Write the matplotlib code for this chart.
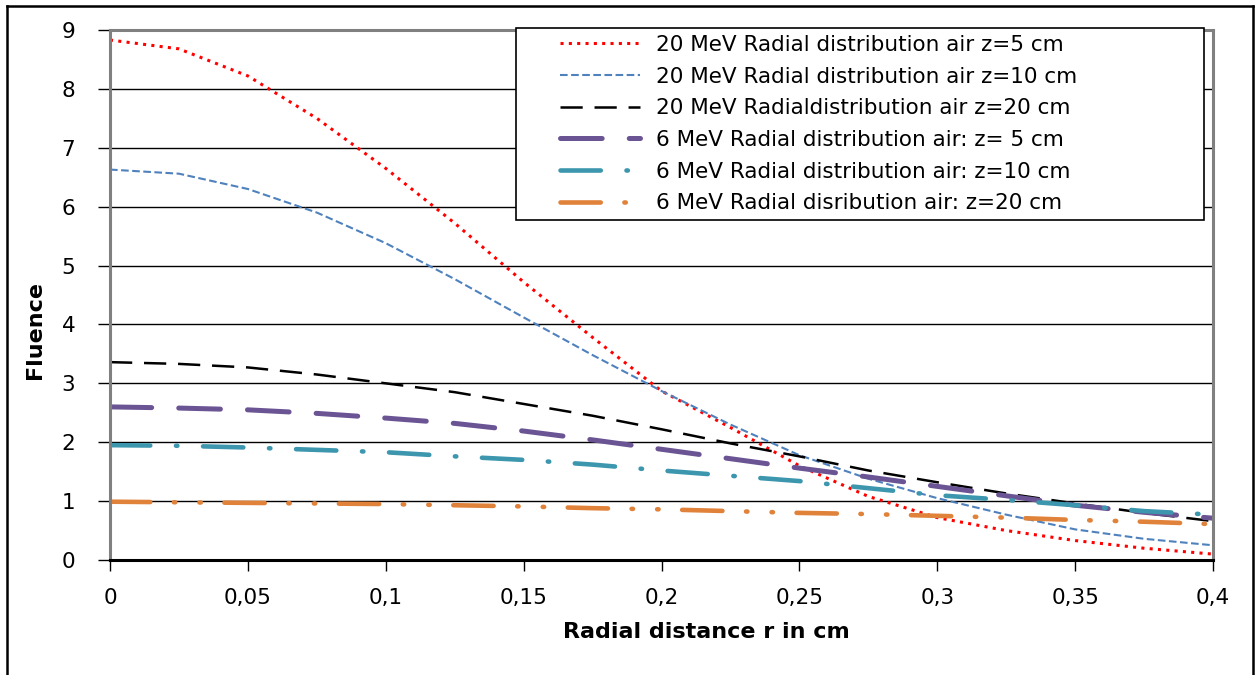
import numpy as np
import matplotlib
matplotlib.use("Agg")
import matplotlib.pyplot as plt
from matplotlib.lines import Line2D
from matplotlib.patches import Rectangle

plt.rcParams['font.family'] = ['DejaVu Sans']
plt.rcParams['lines.scale_dashes'] = False

# radial distance in cm
r = [0, 0.025, 0.05, 0.075, 0.1, 0.125, 0.15, 0.175, 0.2,
     0.225, 0.25, 0.275, 0.3, 0.325, 0.35, 0.375, 0.4]

mev20_z5 = [8.83, 8.68, 8.22, 7.5, 6.65, 5.72, 4.72, 3.78, 2.87,
            2.25, 1.6, 1.08, 0.72, 0.5, 0.33, 0.2, 0.1]
mev20_z10 = [6.63, 6.56, 6.3, 5.9, 5.38, 4.77, 4.12, 3.48, 2.87,
             2.3, 1.78, 1.38, 1.05, 0.77, 0.52, 0.36, 0.25]
mev20_z20 = [3.36, 3.33, 3.27, 3.15, 3.0, 2.85, 2.65, 2.45, 2.22,
             1.98, 1.76, 1.52, 1.32, 1.13, 0.96, 0.8, 0.66]
mev6_z5 = [2.6, 2.58, 2.55, 2.49, 2.41, 2.32, 2.19, 2.04, 1.88,
           1.72, 1.56, 1.41, 1.25, 1.09, 0.93, 0.81, 0.71]
mev6_z10 = [1.95, 1.94, 1.91, 1.87, 1.83, 1.76, 1.7, 1.62, 1.52,
            1.43, 1.34, 1.22, 1.1, 1.02, 0.93, 0.83, 0.77]
mev6_z20 = [0.99, 0.98, 0.97, 0.96, 0.95, 0.93, 0.91, 0.88, 0.86,
            0.83, 0.8, 0.78, 0.75, 0.72, 0.68, 0.65, 0.61]

labels = ["20 MeV Radial distribution air z=5 cm",
          "20 MeV Radial distribution air z=10 cm",
          "20 MeV Radialdistribution air z=20 cm",
          "6 MeV Radial distribution air: z= 5 cm",
          "6 MeV Radial distribution air: z=10 cm",
          "6 MeV Radial disribution air: z=20 cm"]

xticks = [0, 0.05, 0.1, 0.15, 0.2, 0.25, 0.3, 0.35, 0.4]
xticklabels = ["0", "0,05", "0,1", "0,15", "0,2", "0,25", "0,3", "0,35", "0,4"]

W, H = 1255, 675
fig = plt.figure(figsize=(W / 100, H / 100), dpi=100)
ax = fig.add_axes([110 / W, 1 - 560 / H, 1103 / W, 530 / H])

styles = [
    dict(color="#ff0000", lw=2.2, dashes=(2.2, 3.8)),
    dict(color="#4f81bd", lw=1.5, dashes=(5.5, 2.5)),
    dict(color="black", lw=1.8, dashes=(16, 8.5)),
    dict(color="#6b5494", lw=3.6, dashes=(30, 19.5), dash_capstyle="round"),
    dict(color="#3c96ae", lw=3.3, dashes=(29, 18.5, 1.0, 18.5), dash_capstyle="round"),
    dict(color="#e0823a", lw=3.3, dashes=(29, 17, 1.0, 17.4, 1.0, 17),
         dash_capstyle="round"),
]
series = [mev20_z5, mev20_z10, mev20_z20, mev6_z5, mev6_z10, mev6_z20]

lines = []
for ys, lab, st in zip(series, labels, styles):
    ln, = ax.plot(r, ys, label=lab, **st)
    lines.append(ln)

ax.set_xlim(0, 0.4)
ax.set_ylim(0, 9)
ax.set_yticks(range(10))
ax.set_xticks(xticks)
ax.set_xticklabels(xticklabels)
ax.grid(axis="y", color="black", lw=1)
ax.set_axisbelow(True)
ax.tick_params(axis="y", direction="out", length=9, width=1, pad=16, labelsize=15.5)
ax.tick_params(axis="x", direction="out", length=8, width=1, pad=12, labelsize=15.5)

for side in ["left", "top", "right"]:
    ax.spines[side].set_color("#808080")
    ax.spines[side].set_linewidth(2.2)
ax.spines["bottom"].set_color("black")
ax.spines["bottom"].set_linewidth(2.2)

fig.text(35 / W, 1 - 330 / H, "Fluence", rotation=90, fontsize=16,
         fontweight="bold", ha="center", va="center")
fig.text(706 / W, 1 - 632 / H, "Radial distance r in cm", fontsize=16,
         fontweight="bold", ha="center", va="center")

# legend box and entries
fig.patches.append(Rectangle((516 / W, 1 - 220 / H), 688 / W, 192 / H,
                             transform=fig.transFigure, facecolor="white",
                             edgecolor="black", lw=1.2, zorder=3))
leg = fig.legend(handles=lines, labels=labels, loc="upper left",
                 bbox_to_anchor=(560 / W, 1 - 35 / H), frameon=False,
                 borderpad=0, borderaxespad=0, handlelength=3.7,
                 handletextpad=0.75, labelspacing=0.54, fontsize=15.5)
leg.set_zorder(4)

# outer frame
for xs, ys in [([7, 1253], [6, 6]), ([7, 7], [6, 675]), ([1253, 1253], [6, 675])]:
    fig.add_artist(Line2D([x / W for x in xs], [1 - y / H for y in ys],
                          transform=fig.transFigure, color="black", lw=1.8))

fig.savefig("out.png", dpi=100)
